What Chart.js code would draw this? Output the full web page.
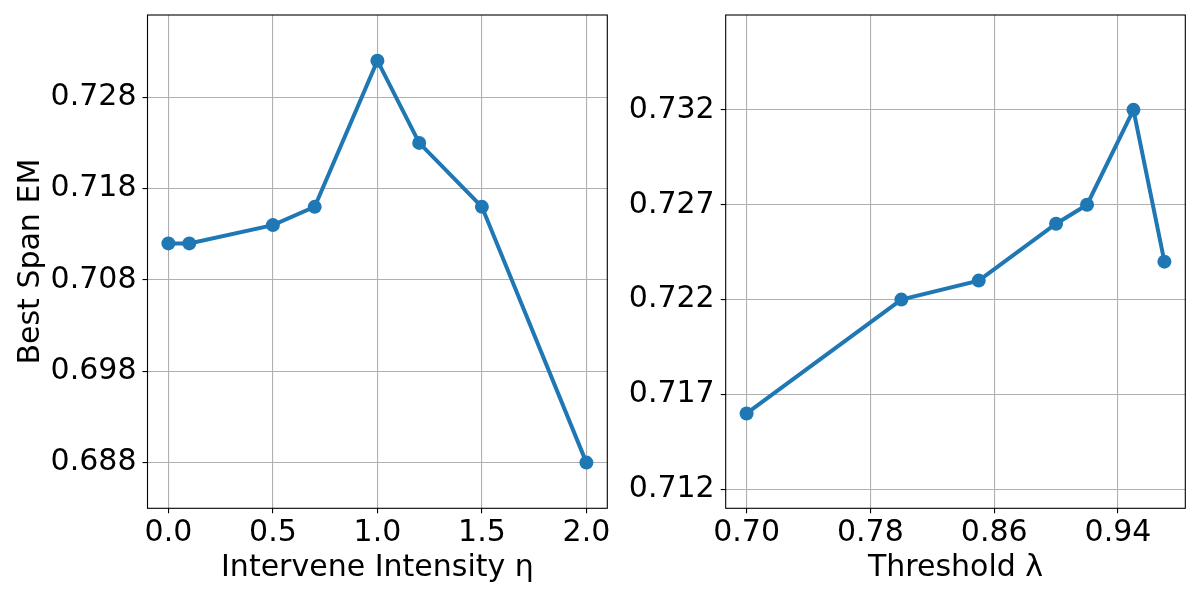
<!DOCTYPE html>
<html>
<head>
<meta charset="utf-8">
<script src="https://cdn.jsdelivr.net/npm/chart.js@4.4.1/dist/chart.umd.min.js"></script>
<style>
  html, body { margin: 0; padding: 0; background: #ffffff; }
  #wrap { position: relative; width: 1200px; height: 600px; }
  canvas { position: absolute; left: 0; top: 0; }
</style>
</head>
<body>
<div id="wrap">
  <canvas id="c1" width="1200" height="600"></canvas>
  <canvas id="c2" width="1200" height="600"></canvas>
</div>
<script>
// ---- Data ----
const etaValues = [0.0, 0.1, 0.5, 0.7, 1.0, 1.2, 1.5, 2.0];
const emByEta = [0.712, 0.712, 0.714, 0.716, 0.732, 0.723, 0.716, 0.688];

const lambdaValues = [0.70, 0.80, 0.85, 0.90, 0.92, 0.95, 0.97];
const emByLambda = [0.716, 0.722, 0.723, 0.726, 0.727, 0.732, 0.724];

const etaTicks = [0.0, 0.5, 1.0, 1.5, 2.0];
const leftYTicks = [0.688, 0.698, 0.708, 0.718, 0.728];
const lambdaTicks = [0.70, 0.78, 0.86, 0.94];
const rightYTicks = [0.712, 0.717, 0.722, 0.727, 0.732];

const leftXTitle = 'Intervene Intensity η';
const rightXTitle = 'Threshold λ';
const yTitle = 'Best Span EM';

// ---- Styling ----
const FONT = "'DejaVu Sans', 'Liberation Sans', sans-serif";
const BLUE = '#1f77b4';
const GRID = '#b0b0b0';

const frame = {
  id: 'frame',
  afterDatasetsDraw(chart) {
    const a = chart.chartArea, ctx = chart.ctx;
    ctx.save();
    ctx.strokeStyle = '#000';
    ctx.lineWidth = 1.1;
    ctx.strokeRect(a.left, a.top, a.right - a.left, a.bottom - a.top);
    ctx.restore();
  }
};

function pts(xs, ys) { return xs.map((x, i) => ({x: x, y: ys[i]})); }

function makeChart(id, cfg) {
  const tickFont = {family: FONT, size: 30, lineHeight: 1};
  return new Chart(document.getElementById(id), {
    type: 'line',
    data: {
      datasets: [{
        data: pts(cfg.xs, cfg.ys),
        borderColor: BLUE,
        backgroundColor: BLUE,
        borderWidth: 4,
        pointRadius: 7,
        pointHoverRadius: 7,
        pointBorderWidth: 0,
        pointBackgroundColor: BLUE,
        tension: 0,
        fill: false
      }]
    },
    options: {
      responsive: false,
      devicePixelRatio: 1,
      animation: false,
      events: [],
      layout: {padding: {top: 15, left: cfg.padLeft, right: cfg.padRight, bottom: 0}},
      plugins: {legend: {display: false}, tooltip: {enabled: false}},
      scales: {
        x: {
          type: 'linear',
          min: cfg.xMin, max: cfg.xMax,
          afterBuildTicks: s => { s.ticks = cfg.xTicks.map(v => ({value: v})); },
          afterFit: s => { s.height = 91.7; s.paddingLeft = 0; s.paddingRight = 0; },
          ticks: {
            font: tickFont, color: '#000', padding: 5, maxRotation: 0, autoSkip: false,
            callback: v => Number(v).toFixed(cfg.xDec)
          },
          grid: {color: GRID, lineWidth: 1.1, tickColor: '#000', tickLength: 5, tickWidth: 1.1},
          border: {display: false},
          title: {display: true, text: cfg.xTitle, color: '#000',
                  font: {family: FONT, size: 30, lineHeight: 1}, padding: {top: 0, bottom: 16.5}}
        },
        y: {
          type: 'linear',
          min: cfg.yMin, max: cfg.yMax,
          afterBuildTicks: s => { s.ticks = cfg.yTicks.map(v => ({value: v})); },
          afterFit: s => { s.width = cfg.yWidth; s.paddingTop = 0; s.paddingBottom = 0; },
          ticks: {
            font: tickFont, color: '#000', padding: 6, autoSkip: false,
            callback: v => Number(v).toFixed(3)
          },
          grid: {color: GRID, lineWidth: 1.1, tickColor: '#000', tickLength: 5, tickWidth: 1.1},
          border: {display: false},
          title: {display: cfg.yTitle !== null, text: cfg.yTitle || '', color: '#000',
                  font: {family: FONT, size: 30, lineHeight: 1}, padding: {top: 16, bottom: 0}}
        }
      }
    },
    plugins: [frame]
  });
}

makeChart('c1', {
  xs: etaValues, ys: emByEta,
  xMin: -0.1, xMax: 2.1, yMin: 0.683, yMax: 0.737,
  xTicks: etaTicks, yTicks: leftYTicks, xDec: 1,
  xTitle: leftXTitle, yTitle: yTitle,
  padLeft: 0, padRight: 1200 - 607.3, yWidth: 147.5
});

makeChart('c2', {
  xs: lambdaValues, ys: emByLambda,
  xMin: 0.6865, xMax: 0.9835, yMin: 0.711, yMax: 0.737,
  xTicks: lambdaTicks, yTicks: rightYTicks, xDec: 2,
  xTitle: rightXTitle, yTitle: null,
  padLeft: 725.7 - 130, padRight: 1200 - 1185.3, yWidth: 130
});
</script>
</body>
</html>
